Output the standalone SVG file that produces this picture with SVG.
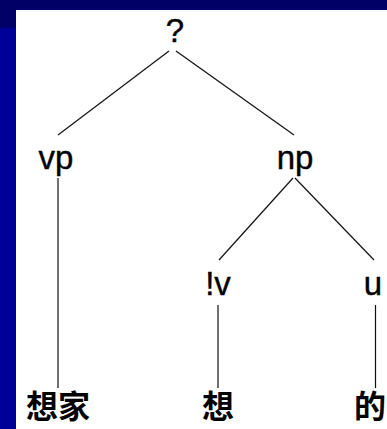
<svg xmlns="http://www.w3.org/2000/svg" width="387" height="429" viewBox="0 0 387 429">
<style>
.lbl{font-family:"Liberation Sans",Arial,sans-serif;font-size:33px;fill:#000;text-anchor:middle;stroke:#000;stroke-width:0.4}
.zh{font-family:"Noto Sans CJK SC","Noto Sans CJK TC",sans-serif;font-size:32px;font-weight:700;fill:#000;text-anchor:middle}
.edge{stroke:#111;stroke-width:1.2;fill:none}
</style>
<rect x="0" y="0" width="387" height="429" fill="#ffffff"/>
<rect x="0" y="0" width="387" height="10" fill="#000066"/>
<rect x="0" y="0" width="16" height="28" fill="#000066"/>
<rect x="0" y="28" width="16" height="401" fill="#000099"/>
<g id="connectors">
<line class="edge" x1="169" y1="51" x2="58" y2="135"/>
<line class="edge" x1="176" y1="51" x2="294" y2="135"/>
<line class="edge" x1="58" y1="178" x2="58" y2="388"/>
<line class="edge" x1="293" y1="178" x2="219" y2="260"/>
<line class="edge" x1="295" y1="178" x2="374" y2="260"/>
<line class="edge" x1="218" y1="305" x2="218" y2="388"/>
<line class="edge" x1="375.5" y1="305" x2="375.5" y2="388"/>
</g>
<g id="root"><text class="lbl" x="175" y="42">?</text></g>
<g id="vp"><text class="lbl" x="56" y="169">vp</text></g>
<g id="np"><text class="lbl" x="295" y="169">np</text></g>
<g id="lv"><text class="lbl" x="218" y="295">!v</text></g>
<g id="u"><text class="lbl" x="373" y="295">u</text></g>
<g id="w-xiangjia"><text class="zh" x="58" y="418">想家</text></g>
<g id="w-xiang"><text class="zh" x="218" y="418">想</text></g>
<g id="w-de"><text class="zh" x="370" y="418">的</text></g>
</svg>
